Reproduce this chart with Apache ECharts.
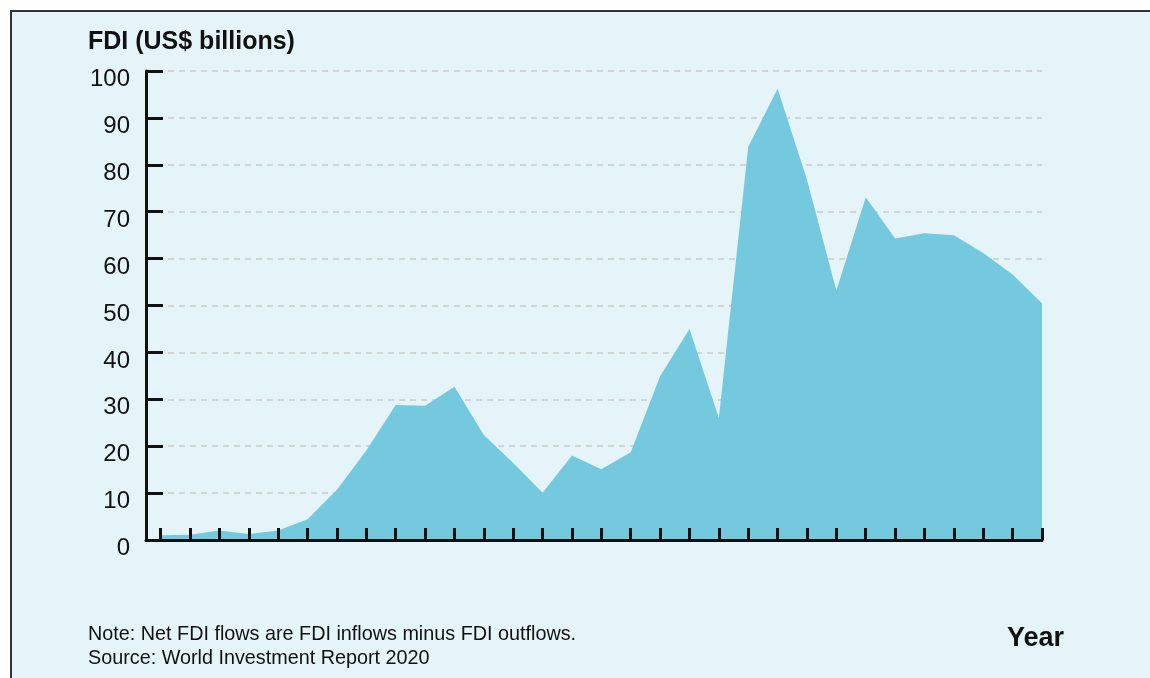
<!DOCTYPE html>
<html>
<head>
<meta charset="utf-8">
<script src="https://cdn.jsdelivr.net/npm/echarts@6/dist/echarts.min.js"></script>
<style>
  html, body { margin: 0; padding: 0; background: #ffffff; }
  #fdiChart { width: 1150px; height: 678px; }
</style>
</head>
<body>
<div id="fdiChart"></div>
<script>
// years on the x axis (not labelled in the figure)
var years = [1989, 1990, 1991, 1992, 1993, 1994, 1995, 1996, 1997, 1998, 1999,
  2000, 2001, 2002, 2003, 2004, 2005, 2006, 2007, 2008, 2009,
  2010, 2011, 2012, 2013, 2014, 2015, 2016, 2017, 2018, 2019]
// net FDI, US$ billions
var fdi = [1.0, 1.1, 2.0, 1.3, 2.0, 4.4, 10.7, 19.1, 28.8, 28.6, 32.7,
  22.4, 16.4, 10.1, 18.0, 15.1, 18.7, 34.9, 45.0, 26.0, 83.8,
  96.2, 76.8, 53.2, 73.1, 64.3, 65.4, 65.0, 61.2, 56.6, 50.5]
var yTicks = [0, 10, 20, 30, 40, 50, 60, 70, 80, 90, 100]

var myChart = echarts.init(document.getElementById('fdiChart'))

var idx = years.map(function (y, i) { return i })
var points = fdi.map(function (v, i) { return [i, v] })

var option = {
  animation: false,
  backgroundColor: '#ffffff',
  textStyle: { fontFamily: 'Liberation Sans, Arial, sans-serif' },
  graphic: [
    {
      type: 'rect', z: -10, silent: true,
      shape: { x: 11, y: 11, width: 1200, height: 700 },
      style: { fill: '#e5f4f9', stroke: '#333333', lineWidth: 2 }
    },
    {
      type: 'text', left: 88, top: 30,
      style: { text: 'FDI (US$ billions)', font: 'bold 25px Liberation Sans, Arial, sans-serif', fill: '#111' }
    },
    {
      type: 'text', left: 88, top: 623,
      style: {
        text: 'Note: Net FDI flows are FDI inflows minus FDI outflows.\nSource: World Investment Report 2020',
        font: '19.8px Liberation Sans, Arial, sans-serif', lineHeight: 24, fill: '#111'
      }
    },
    {
      type: 'text', left: 1007, top: 625,
      style: { text: 'Year', font: 'bold 27px Liberation Sans, Arial, sans-serif', fill: '#111' }
    }
  ],
  grid: { left: 146, right: 108, top: 71, bottom: 138 },
  xAxis: {
    type: 'value',
    z: 10,
    min: -0.5,
    max: years.length - 1,
    axisLine: { show: true, onZero: false, lineStyle: { color: '#111', width: 3 } },
    axisTick: { show: true, inside: true, length: 12, customValues: idx, lineStyle: { color: '#111', width: 3 } },
    axisLabel: { show: false },
    splitLine: { show: false }
  },
  yAxis: {
    type: 'value',
    min: 0,
    max: 100,
    interval: 10,
    axisLine: { show: true, onZero: false, lineStyle: { color: '#111', width: 3 } },
    axisTick: { show: true, inside: true, length: 17, lineStyle: { color: '#111', width: 3 } },
    axisLabel: {
      color: '#111', fontSize: 24, margin: 16,
      verticalAlign: 'top', lineHeight: 17,
      formatter: function (v) { return yTicks.indexOf(v) >= 0 ? String(v) : '' }
    },
    splitLine: { show: true, lineStyle: { color: '#cccaca', width: 1.5, type: [6, 5] } }
  },
  series: [
    {
      name: 'FDI',
      type: 'line',
      data: points,
      showSymbol: false,
      lineStyle: { width: 0 },
      areaStyle: { color: '#74c9de', opacity: 1 }
    }
  ]
}
myChart.setOption(option)
</script>
</body>
</html>
